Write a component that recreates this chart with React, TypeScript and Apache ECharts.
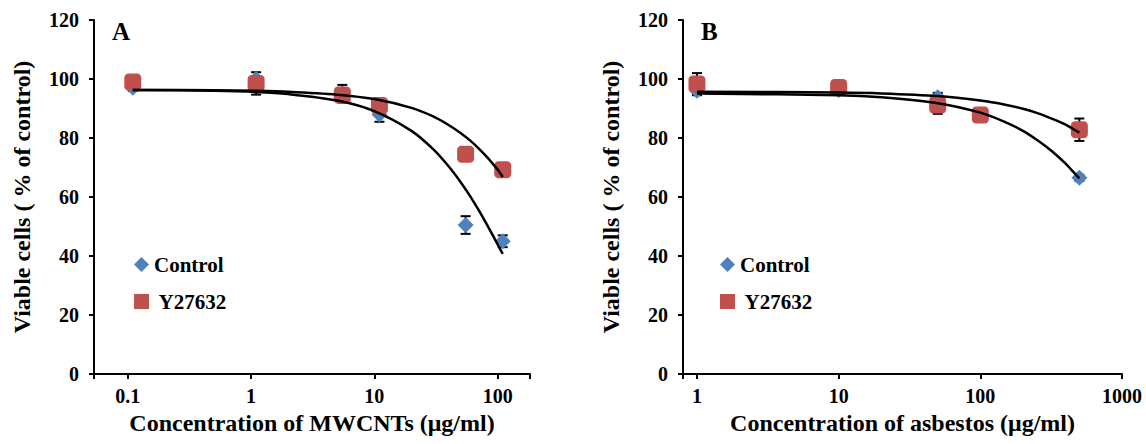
import React, { useEffect, useRef } from "react";
import * as echarts from "echarts";

// ---- Panel A: MWCNTs ----
const concA = [0.11, 1.1, 5.5, 11, 55, 110];
const controlA = [97, 100, 95, 88, 50.5, 45];
const controlErrA = [1, 1, 3, 2.5, 3, 2];
const y27632A = [99, 98.5, 94.6, 91, 74.5, 69.2];
const y27632ErrA = [1, 3.8, 2, 1.5, 1.5, 1.5];

// trend curves
const fitXA = [0.11, 0.5, 1.1, 2, 5, 10, 20, 30, 40, 50, 60, 70, 80, 90, 100, 110];
const fitControlA = [96.3, 96.0, 95.6, 94.9, 92.7, 89.1, 82.4, 76.2, 70.4, 65.1, 60.2, 55.6, 51.4, 47.5, 43.9, 40.7];
const fitY27632A = [96.3, 96.2, 96.0, 95.7, 94.7, 93.2, 90.2, 87.3, 84.4, 81.7, 79.1, 76.5, 74.0, 71.6, 69.3, 66.8];

// ---- Panel B: asbestos ----
const concB = [1, 10, 50, 100, 500];
const controlB = [96, 96.3, 93.8, 88, 66.5];
const controlErrB = [1.5, 1, 1.5, 1, 1];
const y27632B = [98.3, 97.1, 91.2, 87.8, 82.8];
const y27632ErrB = [3.7, 1, 3, 1, 3.8];

const fitXB = [1, 10, 20, 50, 100, 150, 200, 250, 300, 350, 400, 450, 500];
const fitControlB = [95.1, 94.5, 93.8, 91.8, 88.6, 85.4, 82.4, 79.4, 76.6, 73.9, 71.3, 68.7, 66.3];
const fitY27632B = [95.7, 95.4, 95.1, 94.2, 92.7, 91.3, 89.9, 88.5, 87.1, 85.8, 84.5, 83.1, 81.8];

const yTicks = [0, 20, 40, 60, 80, 100, 120];
const legendNames = ["Control", "Y27632"];

const FONT = "'Liberation Serif', 'Times New Roman', serif";
const BLUE = "#4F81BD";
const RED = "#C0504D";

const pairs = (xs: number[], ys: number[]) => xs.map((x, i) => [x, ys[i]]);
const errData = (xs: number[], ys: number[], es: number[]) =>
  xs.map((x, i) => [x, ys[i] - es[i], ys[i] + es[i]]);

const errorSeries = (idx: number, data: number[][]) => ({
  type: "custom",
  xAxisIndex: idx,
  yAxisIndex: idx,
  silent: true,
  data,
  encode: { x: 0, y: [1, 2] },
  renderItem: (_p: any, api: any) => {
    const x = api.value(0);
    const lo = api.coord([x, api.value(1)]);
    const hi = api.coord([x, api.value(2)]);
    const cw = 5;
    const style = { stroke: "#000", lineWidth: 2 };
    return {
      type: "group",
      children: [
        { type: "line", shape: { x1: lo[0], y1: lo[1], x2: hi[0], y2: hi[1] }, style },
        { type: "line", shape: { x1: lo[0] - cw, y1: lo[1], x2: lo[0] + cw, y2: lo[1] }, style },
        { type: "line", shape: { x1: hi[0] - cw, y1: hi[1], x2: hi[0] + cw, y2: hi[1] }, style },
      ],
    };
  },
});

const scatterSeries = (idx: number, name: string, data: number[][], sym: string, size: number, color: string) => ({
  type: "scatter",
  name,
  xAxisIndex: idx,
  yAxisIndex: idx,
  symbol: sym,
  symbolSize: size,
  itemStyle: { color, opacity: 1 },
  data,
});

const fitSeries = (idx: number, data: number[][]) => ({
  type: "line",
  name: "fit" + idx,
  xAxisIndex: idx,
  yAxisIndex: idx,
  showSymbol: false,
  smooth: 0.3,
  silent: true,
  lineStyle: { color: "#000", width: 2.5 },
  data,
});

const labelStyle = { color: "#000", fontFamily: FONT, fontWeight: "bold", fontSize: 20 };
const nameStyle = { color: "#000", fontFamily: FONT, fontWeight: "bold", fontSize: 24 };

const logFormatter = (v: number) => {
  const l = Math.log10(v);
  if (Math.abs(l - Math.round(l)) > 1e-6) return "";
  const p = Math.round(l);
  return p < 0 ? String(Number(Math.pow(10, p).toFixed(-p))) : String(Math.pow(10, p));
};

const xAxis = (idx: number, min: number, max: number, name: string) => ({
  type: "log",
  logBase: 10,
  gridIndex: idx,
  min,
  max,
  name,
  nameLocation: "middle",
  nameGap: 31,
  nameTextStyle: nameStyle,
  axisLine: { show: true, lineStyle: { color: "#000", width: 2 } },
  axisTick: { show: true, length: 5, lineStyle: { color: "#000", width: 2 } },
  axisLabel: { ...labelStyle, margin: 12, formatter: logFormatter },
  splitLine: { show: false },
  minorTick: { show: false },
});

const yAxis = (idx: number) => ({
  type: "value",
  gridIndex: idx,
  min: yTicks[0],
  max: yTicks[yTicks.length - 1],
  interval: yTicks[1] - yTicks[0],
  name: "Viable cells ( % of control)",
  nameLocation: "middle",
  nameGap: 60,
  nameRotate: 90,
  nameTextStyle: nameStyle,
  axisLine: { show: true, lineStyle: { color: "#000", width: 2 } },
  axisTick: { show: true, length: 5, lineStyle: { color: "#000", width: 2 } },
  axisLabel: { ...labelStyle, margin: 15 },
  splitLine: { show: false },
});

const legend = (left: number, top: number) => ({
  left,
  top,
  orient: "vertical",
  itemWidth: 15,
  itemHeight: 15,
  itemGap: 16,
  selectedMode: false,
  data: [
    { name: legendNames[0], icon: "diamond" },
    { name: legendNames[1], icon: "rect" },
  ],
  formatter: (n: string) => (n === "Y27632" ? " " + n : n),
  textStyle: { color: "#000", fontFamily: FONT, fontWeight: "bold", fontSize: 21 },
});

export default function App() {
  const ref = useRef<HTMLDivElement>(null);
  useEffect(() => {
    if (!ref.current) return;
    const chart = echarts.init(ref.current, undefined, { renderer: "svg" });
    chart.setOption({
      animation: false,
      backgroundColor: "#fff",
      grid: [
        { left: 94, top: 20, width: 436, height: 354 },
        { left: 683, top: 20, width: 439, height: 354 },
      ],
      xAxis: [
        xAxis(0, 0.0533, 183, "Concentration of MWCNTs (μg/ml)"),
        xAxis(1, 0.797, 1000, "Concentration of asbestos (μg/ml)"),
      ],
      yAxis: [yAxis(0), yAxis(1)],
      legend: [legend(129, 249), legend(715, 249)],
      graphic: [
        { type: "text", left: 112, top: 19, style: { text: "A", font: `bold 25px ${FONT}`, fill: "#000" } },
        { type: "text", left: 701, top: 19, style: { text: "B", font: `bold 25px ${FONT}`, fill: "#000" } },
      ],
      series: [
        errorSeries(0, errData(concA, controlA, controlErrA)),
        errorSeries(0, errData(concA, y27632A, y27632ErrA)),
        scatterSeries(0, "Control", pairs(concA, controlA), "diamond", 16, BLUE),
        scatterSeries(0, "Y27632", pairs(concA, y27632A), "roundRect", 17, RED),
        fitSeries(0, pairs(fitXA, fitControlA)),
        fitSeries(0, pairs(fitXA, fitY27632A)),
        errorSeries(1, errData(concB, controlB, controlErrB)),
        errorSeries(1, errData(concB, y27632B, y27632ErrB)),
        scatterSeries(1, "Control", pairs(concB, controlB), "diamond", 16, BLUE),
        scatterSeries(1, "Y27632", pairs(concB, y27632B), "roundRect", 17, RED),
        fitSeries(1, pairs(fitXB, fitControlB)),
        fitSeries(1, pairs(fitXB, fitY27632B)),
      ],
    });
    return () => chart.dispose();
  }, []);
  return (
    <div
      ref={ref}
      style={{ position: "fixed", left: 0, top: 0, width: 1146, height: 444, background: "#fff" }}
    />
  );
}
